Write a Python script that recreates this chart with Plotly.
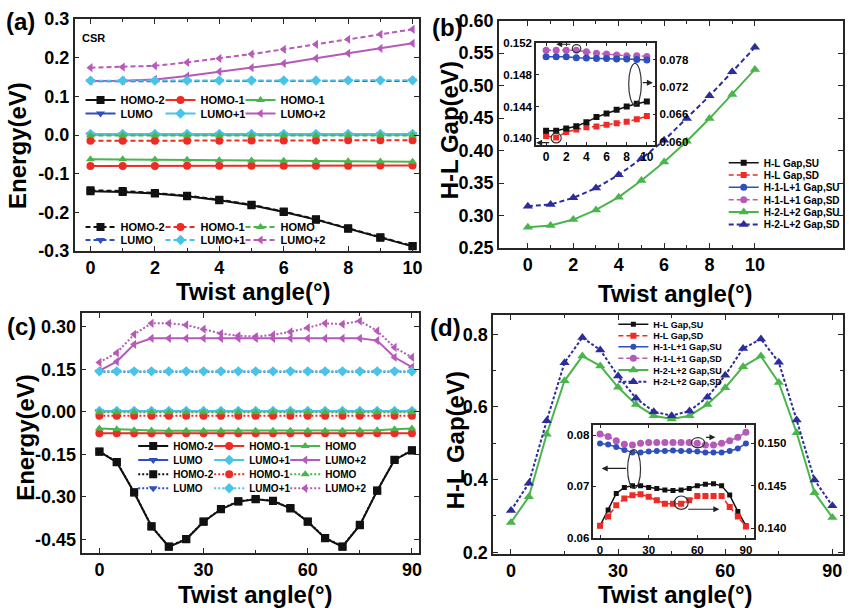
import plotly.graph_objects as go

W, H = 849, 610

# ---------------- data ----------------
# panel (a): CSR, twist 0..10
a_angle = [0, 1, 2, 3, 4, 5, 6, 7, 8, 9, 10]
a_homo2_su = [-0.1455, -0.1472, -0.1516, -0.1585, -0.1688, -0.1818, -0.1991, -0.2189, -0.2422, -0.2656, -0.2880]
a_homo1_su = [-0.0800, -0.0800, -0.0799, -0.0798, -0.0797, -0.0796, -0.0795, -0.0794, -0.0793, -0.0792, -0.0791]
a_homo_su = [-0.0625, -0.0630, -0.0635, -0.0640, -0.0650, -0.0660, -0.0665, -0.0670, -0.0680, -0.0685, -0.0690]
a_lumo_su = [0.0015, 0.0015, 0.0015, 0.0015, 0.0015, 0.0015, 0.0015, 0.0015, 0.0015, 0.0015, 0.0015]
a_lumo1_su = [0.0025, 0.0025, 0.0025, 0.0025, 0.0025, 0.0025, 0.0025, 0.0025, 0.0025, 0.0025, 0.0025]
a_lumo2_su = [0.1395, 0.1405, 0.1438, 0.1524, 0.1636, 0.1740, 0.1852, 0.1982, 0.2111, 0.2240, 0.2370]
a_homo2_sd = [-0.1430, -0.1450, -0.1500, -0.1570, -0.1675, -0.1805, -0.1980, -0.2180, -0.2410, -0.2645, -0.2870]
a_homo1_sd = [-0.0150, -0.0150, -0.0149, -0.0148, -0.0146, -0.0144, -0.0142, -0.0140, -0.0138, -0.0136, -0.0134]
a_homo_sd = [-0.0010, -0.0010, -0.0010, -0.0010, -0.0010, -0.0010, -0.0010, -0.0010, -0.0010, -0.0010, -0.0010]
a_lumo_sd = [0.1390, 0.1390, 0.1392, 0.1393, 0.1394, 0.1395, 0.1396, 0.1397, 0.1398, 0.1399, 0.1400]
a_lumo1_sd = [0.1405, 0.1405, 0.1406, 0.1407, 0.1408, 0.1409, 0.1410, 0.1411, 0.1412, 0.1413, 0.1415]
a_lumo2_sd = [0.1740, 0.1757, 0.1790, 0.1878, 0.1980, 0.2094, 0.2215, 0.2345, 0.2474, 0.2604, 0.2733]

# panel (b): gaps, twist 0..10
b_angle = [0, 1, 2, 3, 4, 5, 6, 7, 8, 9, 10]
b_h2l2_su = [0.2819, 0.2845, 0.2938, 0.3087, 0.3283, 0.3540, 0.3823, 0.4143, 0.4493, 0.4864, 0.5250]
b_h2l2_sd = [0.3144, 0.3170, 0.3272, 0.3422, 0.3628, 0.3875, 0.4158, 0.4493, 0.4843, 0.5214, 0.5590]
b_hl_su = [0.0624, 0.0624, 0.0629, 0.0634, 0.0643, 0.0654, 0.0662, 0.0670, 0.0677, 0.0683, 0.0688]
b_hl_sd = [0.1403, 0.1401, 0.1408, 0.1411, 0.1414, 0.1415, 0.1417, 0.1419, 0.1421, 0.1424, 0.1428]
b_h1l1_su = [0.0786, 0.0786, 0.0786, 0.0784, 0.0783, 0.0782, 0.0782, 0.0781, 0.0781, 0.0780, 0.0779]
b_h1l1_sd = [0.1511, 0.1511, 0.1511, 0.1511, 0.1509, 0.1507, 0.1506, 0.1505, 0.1504, 0.1504, 0.1503]

# panel (c): twist 0..90
c_angle = [0, 5, 10, 15, 20, 25, 30, 35, 40, 45, 50, 55, 60, 65, 70, 75, 80, 85, 90]
c_homo2_su = [-0.141, -0.178, -0.285, -0.405, -0.476, -0.450, -0.388, -0.344, -0.317, -0.309, -0.315, -0.341, -0.388, -0.446, -0.476, -0.400, -0.279, -0.170, -0.137]
c_homo1_su = [-0.076, -0.076, -0.076, -0.076, -0.076, -0.076, -0.076, -0.076, -0.076, -0.076, -0.076, -0.076, -0.076, -0.076, -0.076, -0.076, -0.076, -0.076, -0.076]
c_homo_su = [-0.059, -0.062, -0.065, -0.066, -0.067, -0.067, -0.067, -0.067, -0.067, -0.067, -0.067, -0.067, -0.067, -0.067, -0.067, -0.066, -0.065, -0.062, -0.059]
c_lumo_su = [0.002, 0.002, 0.002, 0.002, 0.002, 0.002, 0.002, 0.002, 0.002, 0.002, 0.002, 0.002, 0.002, 0.002, 0.002, 0.002, 0.002, 0.002, 0.002]
c_lumo1_su = [0.003, 0.003, 0.003, 0.003, 0.003, 0.003, 0.003, 0.003, 0.003, 0.003, 0.003, 0.003, 0.003, 0.003, 0.003, 0.003, 0.003, 0.003, 0.003]
c_lumo2_su = [0.145, 0.177, 0.238, 0.259, 0.259, 0.259, 0.259, 0.259, 0.259, 0.259, 0.259, 0.259, 0.259, 0.259, 0.259, 0.259, 0.251, 0.192, 0.157]
c_homo2_sd = [-0.140, -0.177, -0.284, -0.404, -0.475, -0.449, -0.387, -0.343, -0.316, -0.308, -0.314, -0.340, -0.387, -0.445, -0.475, -0.399, -0.278, -0.169, -0.136]
c_homo1_sd = [-0.014, -0.014, -0.014, -0.014, -0.014, -0.014, -0.014, -0.014, -0.014, -0.014, -0.014, -0.014, -0.014, -0.014, -0.014, -0.014, -0.014, -0.014, -0.014]
c_homo_sd = [-0.002, -0.002, -0.002, -0.002, -0.002, -0.002, -0.002, -0.002, -0.002, -0.002, -0.002, -0.002, -0.002, -0.002, -0.002, -0.002, -0.002, -0.002, -0.002]
c_lumo_sd = [0.141, 0.141, 0.141, 0.141, 0.141, 0.141, 0.141, 0.141, 0.141, 0.141, 0.141, 0.141, 0.141, 0.141, 0.141, 0.141, 0.141, 0.141, 0.141]
c_lumo1_sd = [0.1425, 0.1425, 0.1425, 0.1425, 0.1425, 0.1425, 0.1425, 0.1425, 0.1425, 0.1425, 0.1425, 0.1425, 0.1425, 0.1425, 0.1425, 0.1425, 0.1425, 0.1425, 0.1425]
c_lumo2_sd = [0.174, 0.208, 0.273, 0.312, 0.312, 0.306, 0.291, 0.276, 0.268, 0.265, 0.271, 0.282, 0.296, 0.312, 0.309, 0.320, 0.285, 0.227, 0.192]

# panel (d): gaps, twist 0..90
d_angle = [0, 5, 10, 15, 20, 25, 30, 35, 40, 45, 50, 55, 60, 65, 70, 75, 80, 85, 90]
d_h2l2_su = [0.282, 0.353, 0.525, 0.672, 0.740, 0.713, 0.654, 0.607, 0.576, 0.567, 0.576, 0.607, 0.653, 0.711, 0.740, 0.667, 0.529, 0.364, 0.296]
d_h2l2_sd = [0.315, 0.390, 0.562, 0.722, 0.791, 0.757, 0.685, 0.624, 0.587, 0.576, 0.589, 0.627, 0.687, 0.761, 0.787, 0.723, 0.564, 0.399, 0.328]
d_hl_su = [0.0623, 0.0654, 0.0686, 0.0698, 0.0701, 0.0701, 0.0698, 0.0696, 0.0693, 0.0692, 0.0693, 0.0696, 0.0701, 0.0704, 0.0705, 0.0701, 0.0683, 0.0651, 0.0623]
d_hl_sd = [0.1403, 0.1414, 0.1427, 0.1435, 0.1439, 0.1440, 0.1437, 0.1433, 0.1429, 0.1429, 0.1429, 0.1433, 0.1438, 0.1438, 0.1438, 0.1438, 0.1425, 0.1414, 0.1402]
d_h1l1_su = [0.0784, 0.0782, 0.0777, 0.0771, 0.0766, 0.0766, 0.0768, 0.0769, 0.0769, 0.0770, 0.0769, 0.0769, 0.0768, 0.0766, 0.0766, 0.0766, 0.0769, 0.0774, 0.0784]
d_h1l1_sd = [0.1511, 0.1508, 0.1503, 0.1499, 0.1498, 0.1500, 0.1501, 0.1501, 0.1501, 0.1501, 0.1501, 0.1501, 0.1500, 0.1498, 0.1498, 0.1500, 0.1503, 0.1507, 0.1513]

# tick labels
a_xtick = [0, 2, 4, 6, 8, 10]
a_xtext = ["0", "2", "4", "6", "8", "10"]
a_ytick = [-0.3, -0.2, -0.1, 0.0, 0.1, 0.2, 0.3]
a_ytext = ["-0.3", "-0.2", "-0.1", "0.0", "0.1", "0.2", "0.3"]
b_ytick = [0.25, 0.30, 0.35, 0.40, 0.45, 0.50, 0.55, 0.60]
b_ytext = ["0.25", "0.30", "0.35", "0.40", "0.45", "0.50", "0.55", "0.60"]
bi_xtick = [0, 2, 4, 6, 8, 10]
bi_xtext = ["0", "2", "4", "6", "8", "10"]
bi_yltick = [0.140, 0.144, 0.148, 0.152]
bi_yltext = ["0.140", "0.144", "0.148", "0.152"]
bi_yrtick = [0.060, 0.066, 0.072, 0.078]
bi_yrtext = ["0.060", "0.066", "0.072", "0.078"]
c_xtick = [0, 30, 60, 90]
c_xtext = ["0", "30", "60", "90"]
c_ytick = [-0.45, -0.30, -0.15, 0.0, 0.15, 0.30]
c_ytext = ["-0.45", "-0.30", "-0.15", "0.00", "0.15", "0.30"]
d_ytick = [0.2, 0.4, 0.6, 0.8]
d_ytext = ["0.2", "0.4", "0.6", "0.8"]
di_yltick = [0.06, 0.07, 0.08]
di_yltext = ["0.06", "0.07", "0.08"]
di_yrtick = [0.140, 0.145, 0.150]
di_yrtext = ["0.140", "0.145", "0.150"]
minor_10 = [1, 3, 5, 7, 9]
minor_90 = [15, 45, 75]
minor_d_y = [0.3, 0.5, 0.7]

# ---------------- style ----------------
FONT = "Liberation Sans, Arial, Helvetica, sans-serif"
AX = "#262626"
BLACK = "#111111"
RED = "#ee2b25"
GREEN = "#4ab54c"
BLUE = "#2f4fbf"
CYAN = "#48c4e8"
MAG = "#b65ab9"
NAVY = "#2c2c9c"


def xd(p0, p1):
    return [p0 / W, p1 / W]


def yd(top, bottom):
    return [1 - bottom / H, 1 - top / H]


fig = go.Figure()


def add(x, y, name, color, symbol, dash, xa, ya, legend=None, size=8, width=2, lw=None):
    tr = go.Scatter(
        x=x, y=y, name=name, mode="lines+markers",
        line=dict(color=color, width=width, dash=dash),
        marker=dict(symbol=symbol, size=size, color=color, line=dict(width=0)),
        xaxis=xa, yaxis=ya,
        legend=legend if legend else "legend",
        showlegend=legend is not None)
    if lw is not None:
        tr.legendwidth = lw
    fig.add_trace(tr)


DASH = "5px,3px"
DOT = "2px,2px"

# (a)
add(a_angle, a_homo2_su, "HOMO-2", BLACK, "square", "solid", "x", "y", "legend")
add(a_angle, a_homo1_su, "HOMO-1", RED, "circle", "solid", "x", "y", "legend")
add(a_angle, a_homo_su, "HOMO-1", GREEN, "triangle-up", "solid", "x", "y", "legend", lw=60)
add(a_angle, a_lumo_su, "LUMO", BLUE, "triangle-down", "solid", "x", "y", "legend2")
add(a_angle, a_lumo1_su, "LUMO+1", CYAN, "diamond", "solid", "x", "y", "legend2")
add(a_angle, a_lumo2_su, "LUMO+2", MAG, "triangle-left", "solid", "x", "y", "legend2", lw=60)
add(a_angle, a_homo2_sd, "HOMO-2", BLACK, "square", DASH, "x", "y", "legend3")
add(a_angle, a_homo1_sd, "HOMO-1", RED, "circle", DASH, "x", "y", "legend3")
add(a_angle, a_homo_sd, "HOMO", GREEN, "triangle-up", DASH, "x", "y", "legend3", lw=60)
add(a_angle, a_lumo_sd, "LUMO", BLUE, "triangle-down", DASH, "x", "y", "legend4")
add(a_angle, a_lumo1_sd, "LUMO+1", CYAN, "diamond", DASH, "x", "y", "legend4")
add(a_angle, a_lumo2_sd, "LUMO+2", MAG, "triangle-left", DASH, "x", "y", "legend4", lw=60)

# (b)
add(b_angle, b_hl_su, "H-L Gap,SU", BLACK, "square", "solid", "x3", "y4", "legend5", size=6, width=1.5)
add(b_angle, b_hl_sd, "H-L Gap,SD", RED, "square", DASH, "x3", "y3", "legend6", size=6, width=1.5)
add(b_angle, b_h1l1_su, "H-1-L+1 Gap,SU", BLUE, "circle", "solid", "x3", "y4", "legend7", size=7, width=1.5)
add(b_angle, b_h1l1_sd, "H-1-L+1 Gap,SD", MAG, "circle", DASH, "x3", "y3", "legend8", size=7, width=1.5)
add(b_angle, b_h2l2_su, "H-2-L+2 Gap,SU", GREEN, "triangle-up", "solid", "x2", "y2", "legend9", size=9)
add(b_angle, b_h2l2_sd, "H-2-L+2 Gap,SD", NAVY, "triangle-up", DASH, "x2", "y2", "legend10", size=9)

# (c)
add(c_angle, c_homo2_su, "HOMO-2", BLACK, "square", "solid", "x4", "y5", "legend11")
add(c_angle, c_homo1_su, "HOMO-1", RED, "circle", "solid", "x4", "y5", "legend11")
add(c_angle, c_homo_su, "HOMO", GREEN, "triangle-up", "solid", "x4", "y5", "legend11", lw=60)
add(c_angle, c_lumo_su, "LUMO", BLUE, "triangle-down", "solid", "x4", "y5", "legend12")
add(c_angle, c_lumo1_su, "LUMO+1", CYAN, "diamond", "solid", "x4", "y5", "legend12")
add(c_angle, c_lumo2_su, "LUMO+2", MAG, "triangle-left", "solid", "x4", "y5", "legend12", lw=60)
add(c_angle, c_homo2_sd, "HOMO-2", BLACK, "square", DOT, "x4", "y5", "legend13")
add(c_angle, c_homo1_sd, "HOMO-1", RED, "circle", DOT, "x4", "y5", "legend13")
add(c_angle, c_homo_sd, "HOMO", GREEN, "triangle-up", DOT, "x4", "y5", "legend13", lw=60)
add(c_angle, c_lumo_sd, "LUMO", BLUE, "triangle-down", DOT, "x4", "y5", "legend14")
add(c_angle, c_lumo1_sd, "LUMO+1", CYAN, "diamond", DOT, "x4", "y5", "legend14")
add(c_angle, c_lumo2_sd, "LUMO+2", MAG, "triangle-left", DOT, "x4", "y5", "legend14", lw=60)

# (d)
add(d_angle, d_hl_su, "H-L Gap,SU", BLACK, "square", "solid", "x6", "y7", "legend15", size=5, width=1.5)
add(d_angle, d_hl_sd, "H-L Gap,SD", RED, "square", DASH, "x6", "y8", "legend16", size=6, width=1.5)
add(d_angle, d_h1l1_su, "H-1-L+1 Gap,SU", BLUE, "circle", "solid", "x6", "y7", "legend17", size=6, width=1.5)
add(d_angle, d_h1l1_sd, "H-1-L+1 Gap,SD", MAG, "circle", DASH, "x6", "y8", "legend18", size=7, width=1.5)
add(d_angle, d_h2l2_su, "H-2-L+2 Gap,SU", GREEN, "triangle-up", "solid", "x5", "y6", "legend19", size=9)
add(d_angle, d_h2l2_sd, "H-2-L+2 Gap,SD", NAVY, "triangle-up", "3px,2px", "x5", "y6", "legend20", size=9)


def axis(domain, rng, tv, tt, anchor, size=18, minor=None, mirror="ticks", **kw):
    d = dict(domain=domain, range=rng, tickmode="array", tickvals=tv, ticktext=tt,
             anchor=anchor, showline=True, linecolor=AX, linewidth=1.6, mirror=mirror,
             ticks="inside", ticklen=5, tickwidth=1.3, tickcolor=AX,
             tickfont=dict(family=FONT, size=size, color="black", weight="bold"),
             showgrid=False, zeroline=False, automargin=False, fixedrange=True)
    if minor is not None:
        d["minor"] = dict(tickmode="array", tickvals=minor, ticks="inside", ticklen=3,
                          tickwidth=1, tickcolor=AX, showgrid=False)
    d.update(kw)
    return d


lay = dict(
    width=W, height=H, margin=dict(l=0, r=0, t=0, b=0),
    paper_bgcolor="white", plot_bgcolor="white",
    font=dict(family=FONT, color="black"),
    xaxis=axis(xd(75, 421), [-0.494, 10.185], a_xtick, a_xtext, "y", minor=minor_10),
    yaxis=axis(yd(19, 251), [-0.3, 0.3], a_ytick, a_ytext, "x"),
    xaxis2=axis(xd(502, 848), [-1.27, 13.88], a_xtick, a_xtext, "y2", minor=minor_10),
    yaxis2=axis(yd(20.7, 248), [0.25, 0.60], b_ytick, b_ytext, "x2"),
    xaxis3=axis(xd(539.3, 659.3), [-0.99, 10.85], bi_xtick, bi_xtext, "y3", size=12, ticklen=3),
    yaxis3=axis(yd(43, 145), [0.13916, 0.152], bi_yltick, bi_yltext, "x3", size=11.5, mirror=False, ticklen=3),
    yaxis4=axis(yd(43, 145), [0.0593, 0.0816], bi_yrtick, bi_yrtext, "x3", size=11.5, mirror=False,
                ticklen=3, overlaying="y3", side="right"),
    xaxis4=axis(xd(82, 421), [-5.15, 91.9], c_xtick, c_xtext, "y5", minor=minor_90),
    yaxis5=axis(yd(313, 553), [-0.4983, 0.3483], c_ytick, c_ytext, "x4"),
    xaxis5=axis(xd(496, 848), [-5.01, 92.98], c_xtick, c_xtext, "y6", minor=minor_90),
    yaxis6=axis(yd(315, 554), [0.1953, 0.8531], d_ytick, d_ytext, "x5", minor=minor_d_y),
    xaxis6=axis(xd(597, 758), [-4.05, 94.7], c_xtick, c_xtext, "y7", size=11.5, ticklen=3),
    yaxis7=axis(yd(425, 538), [0.0599, 0.0820], di_yltick, di_yltext, "x6", size=11.5, mirror=False, ticklen=3),
    yaxis8=axis(yd(425, 538), [0.13886, 0.15215], di_yrtick, di_yrtext, "x6", size=11.5, mirror=False,
                ticklen=3, overlaying="y7", side="right"),
)


def leg(xp, yp, size, ew):
    return dict(x=xp / W, y=1 - yp / H, xanchor="left", yanchor="middle", orientation="h",
                bgcolor="rgba(0,0,0,0)", borderwidth=0, itemwidth=30,
                entrywidth=ew, entrywidthmode="pixels", tracegroupgap=0,
                font=dict(family=FONT, size=size, color="black", weight="bold"))


lay["legend"] = leg(81, 100, 11, 35)
lay["legend2"] = leg(81, 113.5, 11, 35)
lay["legend3"] = leg(81, 227, 11, 35)
lay["legend4"] = leg(81, 240, 11, 35)
for i, yp in enumerate([162.7, 175, 187.3, 199.7, 212, 224.5]):
    lay["legend%d" % (5 + i)] = leg(728, yp, 10, 80)
for i, yp in enumerate([446, 460, 474.3, 488.3]):
    lay["legend%d" % (11 + i)] = leg(134, yp, 10, 31)
for i, yp in enumerate([324.3, 335.7, 346.7, 358.3, 370, 381.7]):
    lay["legend%d" % (15 + i)] = leg(617, yp, 9, 70)

fig.update_layout(**lay)


def txt(xp, yp, s, size, angle=0):
    fig.add_annotation(x=xp / W, y=1 - yp / H, xref="paper", yref="paper", text=s,
                       showarrow=False, textangle=angle, xanchor="center", yanchor="middle",
                       font=dict(family=FONT, size=size, color="black", weight="bold"))


txt(21, 21, "(a)", 24)
txt(450, 27, "(b)", 24)
txt(22, 326, "(c)", 24)
txt(448, 327, "(d)", 24)
txt(94, 38, "CSR", 11)
txt(18, 145, "Energy(eV)", 24, -90)
txt(255, 291, "Twist angle(°)", 24)
txt(452, 130, "H-L Gap(eV)", 24, -90)
txt(680, 293, "Twist angle(°)", 24)
txt(25, 437, "Energy(eV)", 24, -90)
txt(257, 594, "Twist angle(°)", 24)
txt(458, 440, "H-L Gap(eV)", 24, -90)
txt(680, 594, "Twist angle(°)", 24)


def ring(xr, yr, x0, x1, y0, y1):
    fig.add_shape(type="circle", xref=xr, yref=yr, x0=x0, x1=x1, y0=y0, y1=y1,
                  line=dict(color="#333333", width=1.2), fillcolor="rgba(0,0,0,0)", layer="above")


def arrow(xr, yr, tx, ty, hx, hy):
    fig.add_annotation(xref=xr, yref=yr, axref=xr, ayref=yr, x=hx, y=hy, ax=tx, ay=ty,
                       text="", showarrow=True, arrowhead=2, arrowsize=1, arrowwidth=1.2,
                       arrowcolor="#222222")


# inset (b) markers
ring("x3", "y3", 2.6, 3.45, 0.1508, 0.1518)
arrow("x3", "y3", 2.55, 0.15184, 1.0, 0.15184)
ring("x3", "y3", 0.5, 1.5, 0.13942, 0.14068)
arrow("x3", "y3", 0.45, 0.13945, -0.99, 0.13945)
ring("x3", "y4", 8.2, 9.45, 0.06805, 0.07716)
arrow("x3", "y4", 9.45, 0.07292, 10.6, 0.07292)

# inset (d) markers
ring("x6", "y7", 17.0, 25.0, 0.0696, 0.0772)
arrow("x6", "y7", 17.0, 0.0735, 1.0, 0.0735)
ring("x6", "y8", 56.3, 64.5, 0.14948, 0.15066)
arrow("x6", "y8", 64.5, 0.1507, 71.2, 0.1507)
ring("x6", "y8", 45.8, 54.4, 0.14222, 0.1438)
arrow("x6", "y8", 53.5, 0.14224, 73.6, 0.14224)

fig.write_html("out.html", config={"displayModeBar": False},
               post_script="document.body.style.margin='0px';")
